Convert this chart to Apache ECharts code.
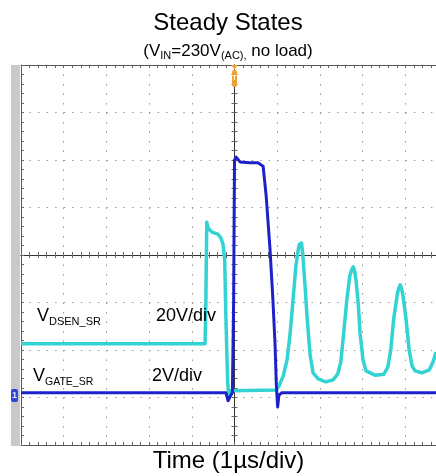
<!DOCTYPE html>
<html>
<head>
<meta charset="utf-8">
<script src="https://cdn.jsdelivr.net/npm/echarts@6/dist/echarts.min.js"></script>
<style>
  html, body { margin: 0; padding: 0; background: #fff; }
  #chart { width: 436px; height: 476px; }
</style>
</head>
<body>
<div id="chart"></div>
<script>
// time in µs (1 µs/div), level in screen divisions (8 div high)
const gateTime = [-5, -0.2, -0.15, -0.11, -0.05, -0.02, 0, 0.04, 0.13, 0.36, 0.55, 0.67, 0.74, 0.83, 0.9, 0.95, 0.98, 1.01, 1.04, 1.11, 5]
const gateLevel = [-2.9, -2.9, -3.07, -2.99, -2.9, -0.95, 2.0, 2.06, 1.96, 1.94, 1.94, 1.87, 1.26, 0.15, -0.95, -1.89, -2.74, -3.2, -2.95, -2.9, -2.9]

const dsenTime = [-5, -0.69, -0.67, -0.65, -0.62, -0.53, -0.39, -0.32, -0.27, -0.23, -0.2, -0.16, -0.13, -0.08,
  0.97, 1.04, 1.14, 1.23, 1.3, 1.37, 1.44, 1.5, 1.52, 1.55, 1.57, 1.6, 1.65, 1.7, 1.77, 1.84, 1.96, 2.14, 2.31, 2.42,
  2.49, 2.56, 2.63, 2.7, 2.74, 2.78, 2.81, 2.85, 2.9, 2.94, 3.01, 3.08, 3.29, 3.5, 3.59, 3.66, 3.73, 3.81, 3.84, 3.88, 3.91, 3.95,
  4.02, 4.09, 4.16, 4.23, 4.39, 4.56, 4.65, 4.72]
const dsenLevel = [-1.87, -1.87, -0.95, 0.69, 0.57, 0.48, 0.44, 0.36, 0.23, -0.1, -1.37, -2.69, -2.99, -2.86,
  -2.84, -2.76, -2.55, -2.21, -1.68, -0.95, -0.21, 0.15, 0.23, 0.27, 0.25, 0.0, -0.63, -1.31, -2.1, -2.48, -2.61, -2.67, -2.63, -2.5,
  -2.25, -1.62, -0.95, -0.44, -0.32, -0.25, -0.32, -0.57, -1.05, -1.64, -2.21, -2.44, -2.53, -2.51, -2.36, -2.0, -1.33, -0.84, -0.72, -0.63, -0.69, -0.88,
  -1.37, -2.0, -2.34, -2.44, -2.48, -2.42, -2.25, -2.04]

const zip = (a, b) => a.map((v, i) => [v, b[i]])

const chart = echarts.init(document.getElementById('chart'))
const FONT = '"Liberation Sans", Arial, sans-serif'

const tickAxis = (extra) => Object.assign({
  type: 'value',
  axisLabel: {show: false},
  splitLine: {show: false},
  axisLine: {show: true, onZero: false, lineStyle: {color: '#555', width: 1}},
  axisTick: {show: true, inside: true, length: 3, lineStyle: {color: '#666'}},
  minorTick: {show: true, splitNumber: 5, length: 3, lineStyle: {color: '#666'}}
}, extra)

const xBase = {min: -5, max: 5, interval: 1}
const yBase = {min: -4, max: 4, interval: 1}

const label = (x, y, text, rich, align) => ({
  type: 'text', x: x, y: y, z: 20,
  style: Object.assign({text: text, align: align || 'left', verticalAlign: 'middle', fill: '#000'}, rich)
})

chart.setOption({
  animation: false,
  backgroundColor: '#fff',
  grid: {left: 21, top: 65, width: 427, height: 380, show: false, containLabel: false, outerBoundsMode: 'none'},
  xAxis: [
    tickAxis(Object.assign({}, xBase, {
      position: 'bottom',
      splitLine: {show: true, lineStyle: {color: '#999', width: 1, type: [1.5, 8]}}
    })),
    tickAxis(Object.assign({}, xBase, {position: 'top'})),
    tickAxis(Object.assign({}, xBase, {position: 'bottom',
      axisLine: {show: true, onZero: true, lineStyle: {color: '#333', width: 1}}})),
    tickAxis(Object.assign({}, xBase, {position: 'bottom',
      axisLine: {show: true, onZero: true, lineStyle: {color: '#333', width: 1}},
      axisTick: {show: true, inside: false, length: 3, lineStyle: {color: '#666'}}}))
  ],
  yAxis: [
    tickAxis(Object.assign({}, yBase, {
      position: 'left',
      splitLine: {show: true, lineStyle: {color: '#999', width: 1, type: [1.5, 7.04]}}
    })),
    tickAxis(Object.assign({}, yBase, {position: 'right'})),
    tickAxis(Object.assign({}, yBase, {position: 'left',
      axisLine: {show: true, onZero: true, lineStyle: {color: '#333', width: 1}}})),
    tickAxis(Object.assign({}, yBase, {position: 'left',
      axisLine: {show: true, onZero: true, lineStyle: {color: '#333', width: 1}},
      axisTick: {show: true, inside: false, length: 3, lineStyle: {color: '#666'}}}))
  ],
  series: [
    {
      name: 'VDSEN_SR', type: 'line', symbol: 'none', z: 3,
      data: zip(dsenTime, dsenLevel),
      lineStyle: {color: '#33d3d3', width: 3.5, join: 'round'}
    },
    {
      name: 'VGATE_SR', type: 'line', symbol: 'none', z: 4,
      data: zip(gateTime, gateLevel),
      lineStyle: {color: '#1c22c8', width: 3, join: 'round'}
    }
  ],
  graphic: [
    {type: 'rect', shape: {x: 11, y: 65, width: 9, height: 381}, style: {fill: '#c9c9c9'}},
    {type: 'rect', shape: {x: 11, y: 389, width: 7, height: 13, r: 2}, style: {fill: '#2a45d8'}, z: 10},
    {type: 'text', x: 14.5, y: 395.5, z: 11,
      style: {text: '1', fill: '#dfe6ff', font: 'bold 9px ' + FONT, align: 'center', verticalAlign: 'middle'}},
    {type: 'polygon', shape: {points: [[231.5, 65], [237.5, 65], [234.5, 70]]}, style: {fill: '#f0a030'}, z: 10},
    {type: 'rect', shape: {x: 232, y: 70, width: 5, height: 17, r: 2}, style: {fill: '#f0a030'}, z: 10},
    {type: 'text', x: 234.5, y: 78, z: 11,
      style: {text: 'T', fill: '#fff3dc', font: 'bold 8px ' + FONT, align: 'center', verticalAlign: 'middle'}},
    label(228, 23.5, 'Steady States', {font: '24px ' + FONT}, 'center'),
    label(228, 51.5, '{a|(V}{b|IN}{a|=230V}{b|(AC),}{a| no load)}', {rich: {
      a: {fontFamily: FONT, fontSize: 17, lineHeight: 20, fill: '#000', verticalAlign: 'middle'},
      b: {fontFamily: FONT, fontSize: 11, lineHeight: 10, fill: '#000', verticalAlign: 'bottom'}
    }}, 'center'),
    label(37, 316.5, '{a|V}{b|DSEN_SR}', {rich: {
      a: {fontFamily: FONT, fontSize: 18, lineHeight: 22, fill: '#000', verticalAlign: 'middle'},
      b: {fontFamily: FONT, fontSize: 11, lineHeight: 11, fill: '#000', verticalAlign: 'bottom'}
    }}),
    label(156, 316.5, '20V/div', {font: '18px ' + FONT}),
    label(33, 376.5, '{a|V}{b|GATE_SR}', {rich: {
      a: {fontFamily: FONT, fontSize: 18, lineHeight: 22, fill: '#000', verticalAlign: 'middle'},
      b: {fontFamily: FONT, fontSize: 10.5, lineHeight: 11, fill: '#000', verticalAlign: 'bottom'}
    }}),
    label(152, 376.5, '2V/div', {font: '18px ' + FONT}),
    label(228.5, 461, 'Time (1µs/div)', {font: '24px ' + FONT}, 'center')
  ]
})
</script>
</body>
</html>
